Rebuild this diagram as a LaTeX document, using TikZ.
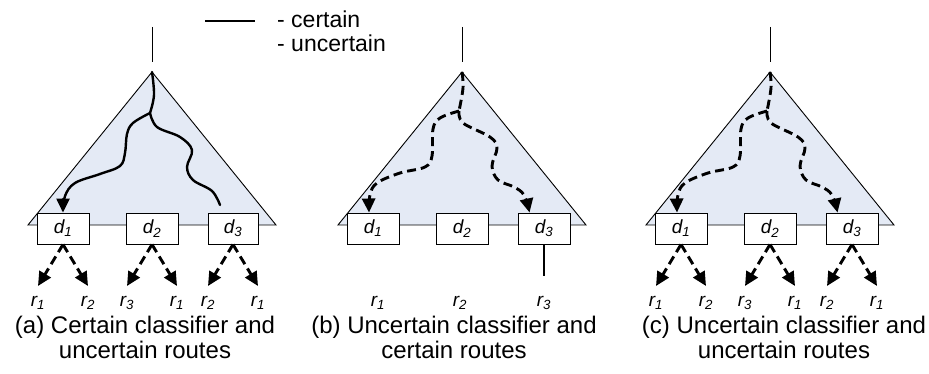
\documentclass[tikz,border=0pt]{standalone}
\usepackage{fontspec}
\setmainfont{Liberation Sans}
\usepackage{tikz}
\usetikzlibrary{arrows.meta}

\definecolor{treefill}{RGB}{228,234,245}

\begin{document}
\begin{tikzpicture}[x=1pt, y=-1pt,
  tri/.style={fill=treefill, draw=black, line width=0.9pt},
  dbox/.style={draw=black, fill=white, line width=0.9pt, minimum width=52pt,
    minimum height=31pt, inner sep=0pt,
    font=\fontsize{19}{19}\selectfont\itshape},
  rlabel/.style={inner sep=0pt, anchor=north, text height=20pt,
    text depth=4pt, font=\fontsize{19}{19}\selectfont\itshape},
  certain/.style={line width=2.4pt, line cap=round},
  uncertain/.style={line width=2.9pt, dash pattern=on 9pt off 5pt},
  routetip/.style={-{Triangle[length=14pt, width=13pt]}},
  subcap/.style={anchor=north, align=center, inner sep=0pt,
    font=\fontsize{24}{25}\selectfont},
  keytext/.style={anchor=west, inner sep=0pt,
    font=\fontsize{23}{23}\selectfont}]
  \useasboundingbox (0,0) rectangle (929,374);

  % Legend -----------------------------------------------------------------
  \coordinate (key-a) at (205,21);
  \coordinate (key-b) at (255,21);
  \draw[certain, line cap=butt] (key-a) -- (key-b);
  \node[keytext] (key-certain) at (277,19) {- certain};
  \node[keytext] (key-uncertain) at (277,43) {- uncertain};

  % (a) certain classifier, uncertain routes -------------------------------
  \begin{scope}
    \coordinate (a-stem) at (152,27);
    \coordinate (a-stemend) at (152,62);
    \coordinate (a-top) at (152,72);
    \draw[line width=0.9pt] (a-stem) -- (a-stemend);
    \draw[tri] (a-top) -- (28,225) -- (276,225) -- cycle;
    \node[dbox] (a-d1) at (63,228.5) {d\textsubscript{1}};
    \node[dbox] (a-d2) at (152,228.5) {d\textsubscript{2}};
    \node[dbox, minimum width=50pt] (a-d3) at (233,228.5) {d\textsubscript{3}};

    % classifier paths
    \coordinate (a-split) at (150,113);
    \draw[certain] plot[smooth, tension=0.6] coordinates
      {(a-top) (154,95) (a-split)};
    \draw[certain, routetip] plot[smooth, tension=0.6] coordinates
      {(a-split) (133,123) (127,134) (125,153) (120,166) (100,174)
       (75,183) (65,196) (a-d1.north)};
    \draw[certain] plot[smooth, tension=0.6] coordinates
      {(a-split) (157,127) (180,137) (192,150) (187,167) (193,180)
       (212,191) (220,205)};

    % routes
    \node[rlabel] (a-r11) at (38,286) {r\textsubscript{1}};
    \node[rlabel] (a-r12) at (88,286) {r\textsubscript{2}};
    \node[rlabel] (a-r23) at (127,286) {r\textsubscript{3}};
    \node[rlabel] (a-r21) at (177,286) {r\textsubscript{1}};
    \node[rlabel] (a-r32) at (208,286) {r\textsubscript{2}};
    \node[rlabel] (a-r31) at (258,286) {r\textsubscript{1}};
    \draw[uncertain, routetip] (a-d1.south) -- (a-r11.north);
    \draw[uncertain, routetip] (a-d1.south) -- (a-r12.north);
    \draw[uncertain, routetip] (a-d2.south) -- (a-r23.north);
    \draw[uncertain, routetip] (a-d2.south) -- (a-r21.north);
    \draw[uncertain, routetip] (a-d3.south) -- (a-r32.north);
    \draw[uncertain, routetip] (a-d3.south) -- (a-r31.north);

    \node[subcap] (a-cap) at (145,316)
      {(a) Certain classifier and\\uncertain routes};
  \end{scope}

  % (b) uncertain classifier, certain routes -------------------------------
  \begin{scope}[xshift=310pt]
    \coordinate (b-stem) at (152,27);
    \coordinate (b-stemend) at (152,62);
    \coordinate (b-top) at (152,72);
    \draw[line width=0.9pt] (b-stem) -- (b-stemend);
    \draw[tri] (b-top) -- (28,225) -- (276,225) -- cycle;
    \node[dbox] (b-d1) at (63,228.5) {d\textsubscript{1}};
    \node[dbox] (b-d2) at (152,228.5) {d\textsubscript{2}};
    \node[dbox] (b-d3) at (234,228.5) {d\textsubscript{3}};

    % classifier paths
    \coordinate (b-split) at (149,111);
    \draw[uncertain] plot[smooth, tension=0.6] coordinates
      {(b-top) (153,88) (b-split)};
    \draw[uncertain, routetip] plot[smooth, tension=0.6] coordinates
      {(b-split) (130,118) (123,129) (122,156) (115,167) (90,173)
       (67,183) (60,195) ([xshift=-4pt]b-d1.north)};
    \draw[uncertain, routetip] plot[smooth, tension=0.6] coordinates
      {(b-split) (153,123) (180,137) (187,148) (182,166) (188,180)
       (204,187) (214,195) ([xshift=12pt]b-d3.north west)};

    % routes
    \node[rlabel] (b-r1) at (68,286) {r\textsubscript{1}};
    \node[rlabel] (b-r2) at (150,286) {r\textsubscript{2}};
    \node[rlabel] (b-r3) at (234,286) {r\textsubscript{3}};
    \draw[certain, line cap=butt, shorten >=10pt] (b-d3.south) -- (b-r3.north);

    \node[subcap] (b-cap) at (144,316)
      {(b) Uncertain classifier and\\certain routes};
  \end{scope}

  % (c) uncertain classifier, uncertain routes -----------------------------
  \begin{scope}[xshift=618pt]
    \coordinate (c-stem) at (152,27);
    \coordinate (c-stemend) at (152,62);
    \coordinate (c-top) at (152,72);
    \draw[line width=0.9pt] (c-stem) -- (c-stemend);
    \draw[tri] (c-top) -- (28,225) -- (276,225) -- cycle;
    \node[dbox] (c-d1) at (63,228.5) {d\textsubscript{1}};
    \node[dbox] (c-d2) at (152,228.5) {d\textsubscript{2}};
    \node[dbox] (c-d3) at (234,228.5) {d\textsubscript{3}};

    % classifier paths
    \coordinate (c-split) at (149,111);
    \draw[uncertain] plot[smooth, tension=0.6] coordinates
      {(c-top) (153,88) (c-split)};
    \draw[uncertain, routetip] plot[smooth, tension=0.6] coordinates
      {(c-split) (130,118) (123,129) (122,156) (115,167) (90,173)
       (67,183) (60,195) ([xshift=-4pt]c-d1.north)};
    \draw[uncertain, routetip] plot[smooth, tension=0.6] coordinates
      {(c-split) (153,123) (180,137) (187,148) (182,166) (188,180)
       (204,187) (214,195) ([xshift=12pt]c-d3.north west)};

    % routes
    \node[rlabel] (c-r11) at (38,286) {r\textsubscript{1}};
    \node[rlabel] (c-r12) at (88,286) {r\textsubscript{2}};
    \node[rlabel] (c-r23) at (127,286) {r\textsubscript{3}};
    \node[rlabel] (c-r21) at (177,286) {r\textsubscript{1}};
    \node[rlabel] (c-r32) at (209,286) {r\textsubscript{2}};
    \node[rlabel] (c-r31) at (259,286) {r\textsubscript{1}};
    \draw[uncertain, routetip] (c-d1.south) -- (c-r11.north);
    \draw[uncertain, routetip] (c-d1.south) -- (c-r12.north);
    \draw[uncertain, routetip] (c-d2.south) -- (c-r23.north);
    \draw[uncertain, routetip] (c-d2.south) -- (c-r21.north);
    \draw[uncertain, routetip] (c-d3.south) -- (c-r32.north);
    \draw[uncertain, routetip] (c-d3.south) -- (c-r31.north);

    \node[subcap] (c-cap) at (166,316)
      {(c) Uncertain classifier and\\uncertain routes};
  \end{scope}
\end{tikzpicture}
\end{document}
